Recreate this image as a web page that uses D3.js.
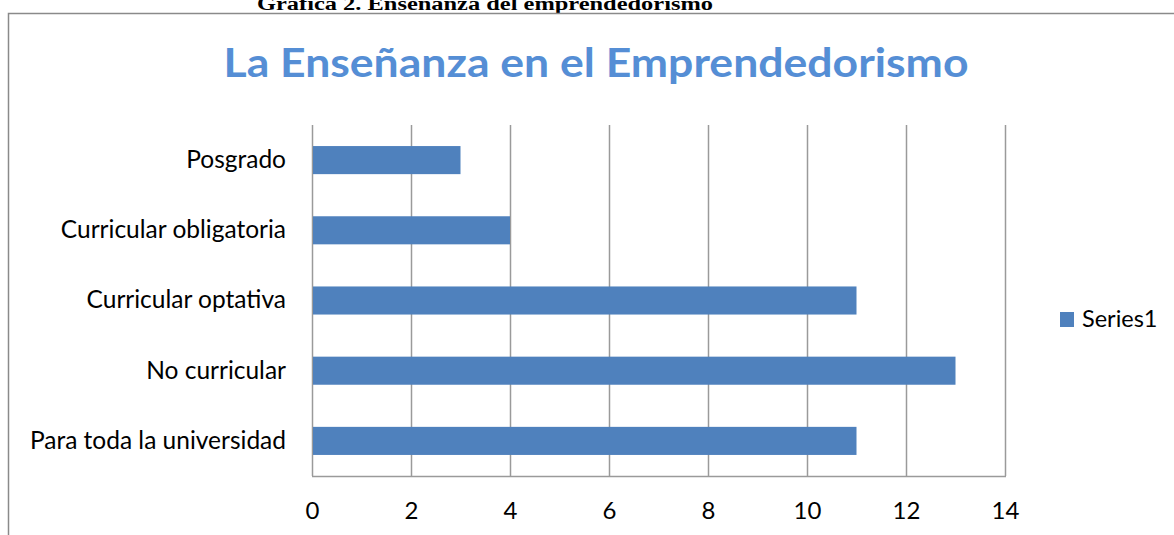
<!DOCTYPE html>
<html>
<head>
<meta charset="utf-8">
<script src="https://cdn.jsdelivr.net/npm/d3@7"></script>
<style>
  html, body { margin: 0; padding: 0; background: #fff; }
  svg { display: block; }
</style>
</head>
<body>
<svg id="chart" width="1174" height="535"></svg>
<script>
// Chart data
const categories = ["Posgrado", "Curricular obligatoria", "Curricular optativa", "No curricular", "Para toda la universidad"];
const values = [3, 4, 11, 13, 11];
const xTicks = [0, 2, 4, 6, 8, 10, 12, 14];
const seriesName = "Series1";
const chartTitle = "La Enseñanza en el Emprendedorismo";
const caption = "Gráfica 2. Enseñanza del emprendedorismo";

const svg = d3.select("#chart");
const W = 1174, H = 535;
const plot = { left: 312, right: 1005, top: 125, bottom: 476 };
const barColor = "#4F81BD";
const gridColor = "#9a9a9a";
const labelFont = "Lato, 'Open Sans', sans-serif";

// Document caption above the chart frame
svg.append("text")
  .attr("x", 485).attr("y", 10)
  .attr("text-anchor", "middle")
  .attr("font-family", "'Liberation Serif', 'Times New Roman', serif")
  .attr("font-weight", "bold")
  .attr("font-size", 18)
  .attr("textLength", 456)
  .attr("lengthAdjust", "spacingAndGlyphs")
  .attr("fill", "#000")
  .text(caption);

// Chart frame
svg.append("path")
  .attr("d", `M8.5,${H + 2} V13.5 H${W + 2}`)
  .attr("fill", "none")
  .attr("stroke", "#8a8a8a")
  .attr("stroke-width", 1.5);

// Title
svg.append("text")
  .attr("x", 596).attr("y", 77)
  .attr("text-anchor", "middle")
  .attr("font-family", labelFont)
  .attr("font-weight", "bold")
  .attr("font-size", 40)
  .attr("textLength", 745)
  .attr("lengthAdjust", "spacingAndGlyphs")
  .attr("fill", "#558ED5")
  .text(chartTitle);

const x = d3.scaleLinear().domain([0, 14]).range([plot.left, plot.right]);
const y = d3.scaleBand().domain(categories).range([plot.top, plot.bottom])
  .paddingInner(0.6).paddingOuter(0.3);

// Vertical gridlines
svg.append("g")
  .selectAll("line")
  .data(xTicks)
  .join("line")
  .attr("x1", d => Math.round(x(d)) + 0.5)
  .attr("x2", d => Math.round(x(d)) + 0.5)
  .attr("y1", plot.top)
  .attr("y2", plot.bottom)
  .attr("stroke", gridColor)
  .attr("stroke-width", 1.5);

// Baseline along the bottom
svg.append("line")
  .attr("x1", plot.left).attr("x2", plot.right + 1)
  .attr("y1", plot.bottom + 0.5).attr("y2", plot.bottom + 0.5)
  .attr("stroke", gridColor)
  .attr("stroke-width", 1.5);

// Bars
svg.append("g")
  .selectAll("rect")
  .data(categories.map((c, i) => ({ c, v: values[i] })))
  .join("rect")
  .attr("x", x(0) + 1)
  .attr("y", d => y(d.c))
  .attr("width", d => x(d.v) - x(0) - 1)
  .attr("height", y.bandwidth())
  .attr("fill", barColor);

// Category axis labels
const yAxis = d3.axisLeft(y).tickSize(0).tickPadding(26);
const gy = svg.append("g")
  .attr("transform", `translate(${plot.left},0)`)
  .call(yAxis);
gy.select(".domain").remove();
gy.selectAll("text")
  .attr("font-family", labelFont)
  .attr("font-size", 24.5)
  .attr("fill", "#000");

// Value axis labels
const xAxis = d3.axisBottom(x).tickValues(xTicks).tickSize(0).tickPadding(26);
const gx = svg.append("g")
  .attr("transform", `translate(0,${plot.bottom})`)
  .call(xAxis);
gx.select(".domain").remove();
gx.selectAll("text")
  .attr("font-family", labelFont)
  .attr("font-size", 24)
  .attr("fill", "#000");

// Legend
const legend = svg.append("g").attr("transform", "translate(1060,312)");
legend.append("rect").attr("width", 14).attr("height", 15).attr("fill", barColor);
legend.append("text")
  .attr("x", 22).attr("y", 15)
  .attr("font-family", labelFont)
  .attr("font-size", 23.5)
  .attr("fill", "#000")
  .text(seriesName);
</script>
</body>
</html>
